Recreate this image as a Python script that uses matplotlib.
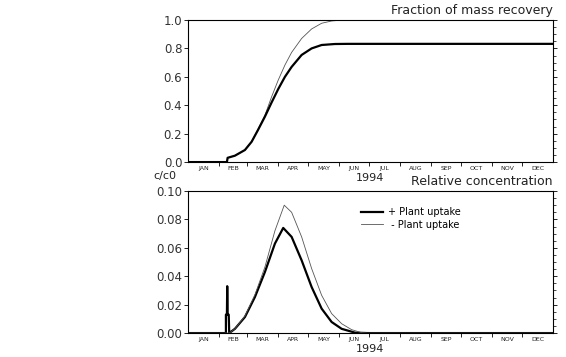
import numpy as np
import matplotlib
matplotlib.use("Agg")
import matplotlib.pyplot as plt
from matplotlib.ticker import MultipleLocator, FixedLocator, NullFormatter, FixedFormatter

# day of year 1994 and values
months = ['JAN', 'FEB', 'MAR', 'APR', 'MAY', 'JUN', 'JUL', 'AUG', 'SEP', 'OCT', 'NOV', 'DEC']
month_start = [0, 31, 59, 90, 120, 151, 181, 212, 243, 273, 304, 334, 365]

# fraction of mass recovery
rec_day_plus = [0, 39.0, 39.7, 47, 57, 63.7, 70, 77, 83.7, 90.3, 97, 103.7, 113.7, 123.7,
                133.7, 147, 160, 365]
rec_plus = [0, 0, 0.03, 0.045, 0.085, 0.143, 0.225, 0.32, 0.42, 0.514, 0.60, 0.67, 0.754,
            0.80, 0.824, 0.831, 0.832, 0.832]
rec_day_minus = [0, 39.0, 39.7, 47, 57, 63.7, 70, 77, 83.7, 90.3, 97, 103.7, 113.7, 123.7,
                 133.7, 143.7, 155, 365]
rec_minus = [0, 0, 0.03, 0.045, 0.085, 0.145, 0.23, 0.33, 0.46, 0.577, 0.683, 0.772, 0.87,
             0.937, 0.977, 0.993, 1.0, 1.0]

# relative concentration c/c0
conc_day_plus = [0, 38.0, 38.0, 39.0, 39.3, 39.7, 40.8, 41.3, 47, 57, 67, 77, 87, 95.3, 103.7,
                 113.7, 123.7, 133.7, 143.7, 153.7, 167, 180, 365]
conc_plus = [0, 0, 0.013, 0.013, 0.033, 0.013, 0.013, 0, 0.003, 0.0113, 0.0254, 0.043, 0.063,
             0.074, 0.0677, 0.0512, 0.0324, 0.0172, 0.0078, 0.003, 0.0003, 0, 0]
conc_day_minus = [0, 41.3, 47, 57, 67, 77, 87, 96.3, 103.7, 113.7, 123.7, 133.7, 143.7, 153.7,
                  163.7, 173.7, 180, 365]
conc_minus = [0, 0, 0.003, 0.012, 0.027, 0.0465, 0.072, 0.09, 0.085, 0.0677, 0.0454, 0.0266,
              0.0137, 0.0066, 0.0024, 0.0003, 0, 0]

plt.rcParams['font.family'] = 'DejaVu Sans'

fig = plt.figure(figsize=(5.66, 3.57), dpi=100)
ax1 = fig.add_axes([0.332, 0.546, 0.645, 0.398])
ax2 = fig.add_axes([0.332, 0.067, 0.645, 0.398])


def style_axis(ax, ymax, major, minor, fmt):
    ax.set_xlim(0, 365)
    ax.set_ylim(0, ymax)
    for s in ax.spines.values():
        s.set_linewidth(0.8)
    # month boundaries as ticks, names in the middle of each month
    ax.xaxis.set_major_locator(FixedLocator(month_start[1:-1]))
    ax.xaxis.set_major_formatter(NullFormatter())
    mids = [(month_start[i] + month_start[i + 1]) / 2 for i in range(12)]
    ax.xaxis.set_minor_locator(FixedLocator(mids))
    ax.xaxis.set_minor_formatter(FixedFormatter(months))
    ax.tick_params(axis='x', which='major', direction='out', length=3, width=0.6)
    ax.tick_params(axis='x', which='minor', length=0, labelsize=4.5, pad=2.5, colors='#222222')
    ax.yaxis.set_major_locator(MultipleLocator(major))
    ax.yaxis.set_minor_locator(MultipleLocator(minor))
    ax.yaxis.set_major_formatter(plt.FormatStrFormatter(fmt))
    ax.tick_params(axis='y', which='major', direction='out', length=3, width=0.6,
                   labelsize=8.5, pad=1, right=True, labelcolor='#333333')
    ax.tick_params(axis='y', which='minor', direction='out', length=2, width=0.5,
                   left=False, right=True)
    ax.text(0.5, -0.08, '1994', transform=ax.transAxes, ha='center', va='top', fontsize=8,
            color='#222222')


ax1.plot(rec_day_minus, rec_minus, color='#555555', lw=0.6, clip_on=True)
ax1.plot(rec_day_plus, rec_plus, color='black', lw=1.6)
style_axis(ax1, 1.0, 0.2, 0.05, '%.1f')
ax1.text(1.0, 1.02, 'Fraction of mass recovery', transform=ax1.transAxes, ha='right',
         va='bottom', fontsize=9, color='#222222')

ax2.plot(conc_day_plus, conc_plus, color='black', lw=1.6, label='+ Plant uptake')
ax2.plot(conc_day_minus, conc_minus, color='#555555', lw=0.6, label=' - Plant uptake')
style_axis(ax2, 0.10, 0.02, 0.005, '%.2f')
ax2.text(1.0, 1.02, 'Relative concentration', transform=ax2.transAxes, ha='right',
         va='bottom', fontsize=9, color='#222222')
ax2.text(-0.095, 1.07, 'c/c0', transform=ax2.transAxes, ha='left', va='bottom', fontsize=8,
         color='#222222')
ax2.legend(loc='upper left', bbox_to_anchor=(0.462, 0.92), frameon=False, fontsize=7,
           handlelength=2.2, handletextpad=0.5, borderpad=0, labelspacing=0.25)

fig.savefig('out.png', dpi=100)
